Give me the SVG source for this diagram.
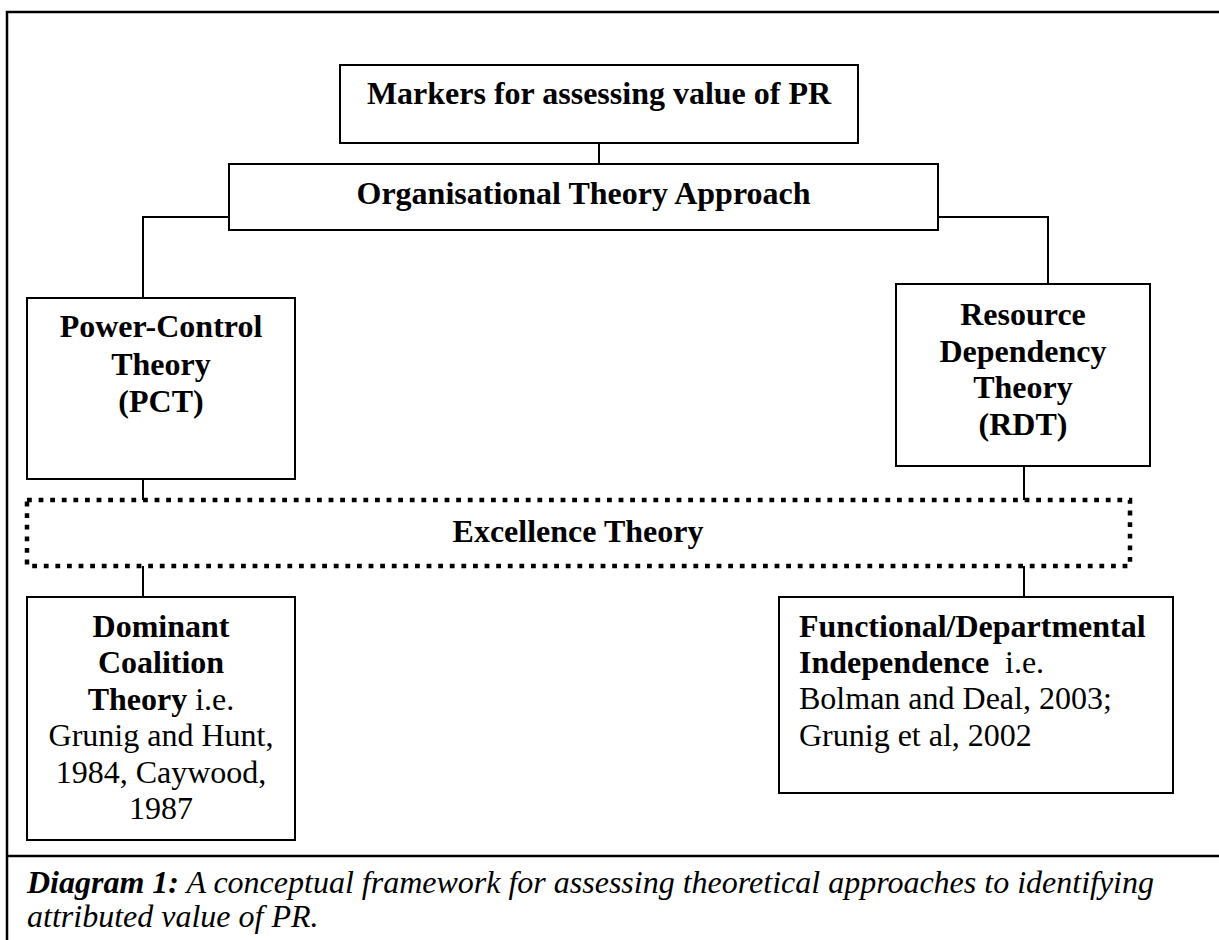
<svg xmlns="http://www.w3.org/2000/svg" width="1219" height="940" viewBox="0 0 1219 940">
<style>
  .box { fill: #fff; stroke: #000; stroke-width: 2; }
  .dot { fill: none; stroke: #000; stroke-width: 4.5; stroke-dasharray: 4.8 6.8; }
  .ln { fill: none; stroke: #000; stroke-width: 2; }
  .frame { fill: none; stroke: #000; stroke-width: 2.5; }
  text { font-family: "Liberation Serif", "Times New Roman", serif; font-size: 32px; fill: #000; }
  .b { font-weight: bold; }
  .c { text-anchor: middle; }
  .i { font-style: italic; }
</style>
<rect width="1219" height="940" fill="#fff"/>
<g id="frame">
  <path class="frame" d="M7,940 V12 H1219"/>
  <path class="frame" d="M7,856 H1219"/>
</g>
<g id="connectors">
  <path class="ln" d="M599,143 V164"/>
  <path class="ln" d="M229,217 H143 V298"/>
  <path class="ln" d="M938,217 H1048 V284"/>
  <path class="ln" d="M143,479 V500"/>
  <path class="ln" d="M1024,466 V500"/>
  <path class="ln" d="M143,566 V597"/>
  <path class="ln" d="M1024,566 V597"/>
</g>
<g id="markers">
  <rect class="box" x="340" y="65" width="518" height="78"/>
  <text class="b c" x="599" y="104">Markers for assessing value of PR</text>
</g>
<g id="org">
  <rect class="box" x="229" y="164" width="709" height="66"/>
  <text class="b c" x="583.5" y="204">Organisational Theory Approach</text>
</g>
<g id="pct">
  <rect class="box" x="27" y="298" width="268" height="181"/>
  <text class="b c" x="161" y="337">Power-Control</text>
  <text class="b c" x="161" y="375">Theory</text>
  <text class="b c" x="161" y="412">(PCT)</text>
</g>
<g id="rdt">
  <rect class="box" x="896" y="284" width="254" height="182"/>
  <text class="b c" x="1023" y="325">Resource</text>
  <text class="b c" x="1023" y="362">Dependency</text>
  <text class="b c" x="1023" y="398">Theory</text>
  <text class="b c" x="1023" y="435">(RDT)</text>
</g>
<g id="excellence">
  <rect class="dot" x="27" y="500" width="1103" height="66"/>
  <text class="b c" x="578" y="542">Excellence Theory</text>
</g>
<g id="dominant">
  <rect class="box" x="27" y="597" width="268" height="243"/>
  <text class="b c" x="161" y="637">Dominant</text>
  <text class="b c" x="161" y="673">Coalition</text>
  <text class="c" x="161" y="710"><tspan class="b">Theory</tspan> i.e.</text>
  <text class="c" x="161" y="746">Grunig and Hunt,</text>
  <text class="c" x="161" y="783">1984, Caywood,</text>
  <text class="c" x="161" y="819">1987</text>
</g>
<g id="functional">
  <rect class="box" x="779" y="597" width="394" height="196"/>
  <text class="b" x="799" y="637">Functional/Departmental</text>
  <text x="799" y="673"><tspan class="b">Independence</tspan><tspan x="1005">i.e.</tspan></text>
  <text x="799" y="709">Bolman and Deal, 2003;</text>
  <text x="799" y="746">Grunig et al, 2002</text>
</g>
<g id="caption">
  <text class="i" x="27" y="893"><tspan class="b">Diagram 1:</tspan> A conceptual framework for assessing theoretical approaches to identifying</text>
  <text class="i" x="27" y="927">attributed value of PR.</text>
</g>
</svg>
